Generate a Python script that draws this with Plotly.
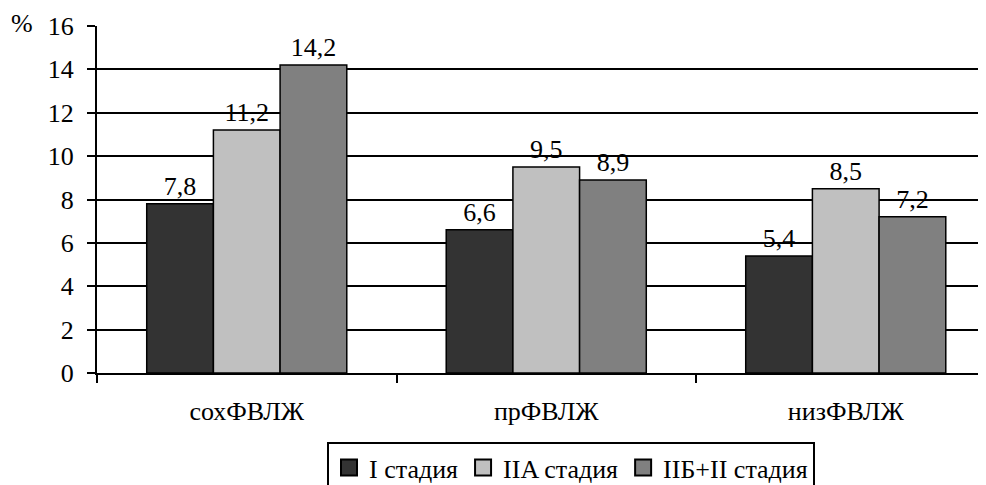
import plotly.graph_objects as go

categories = ["сохФВЛЖ", "прФВЛЖ", "низФВЛЖ"]
series_names = ["I стадия", "IIA стадия", "IIБ+II стадия"]
stage1 = [7.8, 6.6, 5.4]
stage2a = [11.2, 9.5, 8.5]
stage2b = [14.2, 8.9, 7.2]
colors = ["#333333", "#c0c0c0", "#808080"]
y_ticks = [0, 2, 4, 6, 8, 10, 12, 14, 16]

font = "'Liberation Serif', 'DejaVu Serif', serif"
FS = 26
fig = go.Figure()
for name, vals, col in zip(series_names, [stage1, stage2a, stage2b], colors):
    fig.add_trace(go.Bar(
        x=categories, y=vals, name=name, showlegend=False,
        marker=dict(color=col, line=dict(color="black", width=1.5)),
        texttemplate="%{y:.1f}", textposition="outside",
        textfont=dict(size=FS, color="black", family=font),
        cliponaxis=False,
    ))
# legend entries with larger square swatches
for name, col in zip(series_names, colors):
    fig.add_trace(go.Scatter(
        x=[None], y=[None], mode="markers", name=name,
        marker=dict(symbol="square", size=16, color=col, line=dict(color="black", width=2)),
    ))

OFF = 8  # page body margin
W, H = 986 - OFF, 485 - OFF
left, top = 97 - OFF, 26 - OFF
bottom = H - (373 - OFF)
plot_w = W - left
cat_w = 299.5
fig.update_layout(
    width=W, height=H,
    margin=dict(l=left, r=0, t=top, b=bottom, autoexpand=False),
    paper_bgcolor="white", plot_bgcolor="white",
    separators=", ",
    barmode="group", bargap=0.332, bargroupgap=0,
    font=dict(family=font, size=FS, color="black"),
    showlegend=True,
    legend=dict(
        orientation="h", x=(327 - OFF) / W, xanchor="left", xref="container",
        y=1 - (442 - OFF) / H, yanchor="top", yref="container",
        bordercolor="black", borderwidth=2, font=dict(size=FS, family=font),
        traceorder="normal", itemsizing="trace", itemwidth=30,
        tracegroupgap=0,
    ),
    xaxis=dict(
        range=[-0.5, -0.5 + plot_w / cat_w],
        showline=True, linecolor="black", linewidth=2,
        ticks="outside", tickson="boundaries", ticklen=8, tickwidth=2, tickcolor="black",
        showgrid=False, tickfont=dict(size=FS, family=font), ticklabelstandoff=14,
    ),
    yaxis=dict(
        range=[0, 16], tickvals=y_ticks,
        showline=True, linecolor="black", linewidth=2,
        ticks="outside", ticklen=8, tickwidth=2, tickcolor="black",
        showgrid=True, gridcolor="black", gridwidth=2,
        zeroline=False, tickfont=dict(size=FS, family=font), ticklabelstandoff=8,
    ),
    annotations=[dict(
        text="%", xref="paper", yref="paper", x=-75 / plot_w, y=1.0,
        xanchor="center", yanchor="middle", yshift=3, showarrow=False,
        font=dict(size=FS, family=font),
    )],
)
fig.write_html("out.html")
